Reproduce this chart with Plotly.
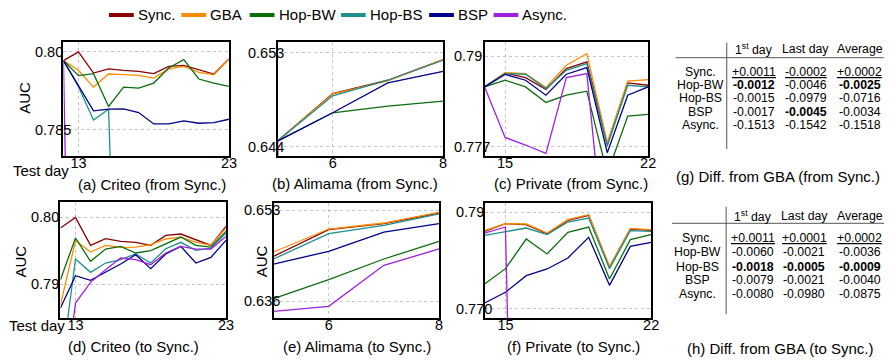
import plotly.graph_objects as go

W, H = 896, 364
FONT = "Liberation Sans, Arial, sans-serif"

# ---------------- data ----------------
series_names = ["Sync.", "GBA", "Hop-BW", "Hop-BS", "BSP", "Async."]
series_colors = ["#8b0000", "#ff8c00", "#0b6e0b", "#1b918c", "#00008b", "#a020e0"]

criteo_days = list(range(12, 24))
alimama_days = [5, 6, 7, 8]
private_days = list(range(14, 23))

# (a) Criteo (from Sync.)
a_sync = [0.79833, 0.80000, 0.79594, 0.79672, 0.79646, 0.79627, 0.79582, 0.79723, 0.79742, 0.79659, 0.79575, 0.79865]
a_gba = [0.79833, 0.79646, 0.79324, 0.79575, 0.79562, 0.79549, 0.79498, 0.79672, 0.79723, 0.79607, 0.79562, 0.79865]
a_hopbw = [0.79833, 0.79543, 0.79582, 0.78951, 0.79324, 0.79305, 0.79401, 0.79691, 0.79852, 0.79479, 0.79401, 0.79337]
a_hopbs = [0.79833, 0.79330, 0.78693, 0.78899, 0.70050, 0.70040, 0.70030, 0.70040, 0.70020, 0.70030, 0.70010, 0.70070]
a_bsp = [0.79833, 0.79350, 0.78867, 0.78899, 0.78906, 0.78835, 0.78616, 0.78616, 0.78674, 0.78629, 0.78642, 0.78706]
a_async = [0.79833, 0.64520, 0.64480, 0.64470, 0.64490, 0.64460, 0.64450, 0.64470, 0.64480, 0.64460, 0.64440, 0.64450]

# (b) Alimama (from Sync.)
b_sync = [0.64454, 0.64911, 0.65038, 0.65236]
b_gba = [0.64454, 0.64904, 0.65032, 0.65236]
b_hopbw = [0.64454, 0.64726, 0.64789, 0.64837]
b_hopbs = [0.64454, 0.64888, 0.65038, 0.65230]
b_bsp = [0.64454, 0.64726, 0.65013, 0.65124]
b_async = [0.64454, 0.49500, 0.49600, 0.49700]

# (c) Private (from Sync.)
c_sync = [0.78560, 0.78761, 0.78694, 0.78522, 0.78823, 0.78919, 0.77738, 0.78618, 0.78584]
c_gba = [0.78560, 0.78766, 0.78751, 0.78551, 0.78871, 0.79038, 0.77757, 0.78642, 0.78665]
c_hopbw = [0.78560, 0.78656, 0.78560, 0.78336, 0.78441, 0.78498, 0.77310, 0.78140, 0.78164]
c_hopbs = [0.78560, 0.78751, 0.78742, 0.78536, 0.78799, 0.78895, 0.77710, 0.78584, 0.78560]
c_bsp = [0.78560, 0.78740, 0.78656, 0.78441, 0.78742, 0.78837, 0.77614, 0.78441, 0.78560]
c_async = [0.78560, 0.77834, 0.77724, 0.77604, 0.78694, 0.78751, 0.75800, 0.75500, 0.75500]

# (d) Criteo (to Sync.)
d_sync = [0.79836, 0.79995, 0.79577, 0.79677, 0.79637, 0.79622, 0.79577, 0.79726, 0.79746, 0.79662, 0.79577, 0.79861]
d_gba = [0.78692, 0.79647, 0.79478, 0.79577, 0.79547, 0.79552, 0.79587, 0.79672, 0.79701, 0.79627, 0.79577, 0.79836]
d_hopbw = [0.79065, 0.79687, 0.79338, 0.79522, 0.79562, 0.79463, 0.79498, 0.79602, 0.79701, 0.79577, 0.79552, 0.79786]
d_hopbs = [0.77650, 0.79373, 0.79174, 0.79313, 0.79363, 0.79448, 0.79313, 0.79527, 0.79622, 0.79502, 0.79537, 0.79761]
d_bsp = [0.78642, 0.79124, 0.79055, 0.79179, 0.79299, 0.79438, 0.79229, 0.79448, 0.79562, 0.79313, 0.79398, 0.79652]
d_async = [0.77035, 0.78716, 0.79025, 0.79214, 0.79388, 0.79363, 0.79289, 0.79463, 0.79562, 0.79522, 0.79522, 0.79711]

# (e) Alimama (to Sync.)
e_sync = [0.64441, 0.64939, 0.65051, 0.65250]
e_gba = [0.64522, 0.64951, 0.65063, 0.65263]
e_hopbw = [0.63650, 0.64005, 0.64391, 0.64721]
e_hopbs = [0.64391, 0.64864, 0.65020, 0.65232]
e_bsp = [0.64297, 0.64534, 0.64895, 0.65051]
e_async = [0.63413, 0.63507, 0.64273, 0.64578]

# (f) Private (to Sync.)
f_sync = [0.78601, 0.78759, 0.78739, 0.78553, 0.78828, 0.78931, 0.77859, 0.78649, 0.78622]
f_gba = [0.78615, 0.78759, 0.78753, 0.78567, 0.78842, 0.78945, 0.77880, 0.78656, 0.78636]
f_hopbw = [0.77515, 0.77832, 0.78443, 0.78134, 0.78581, 0.78691, 0.77619, 0.78430, 0.78533]
f_hopbs = [0.78519, 0.78588, 0.78670, 0.78533, 0.78794, 0.78876, 0.77832, 0.78615, 0.78601]
f_bsp = [0.77124, 0.77344, 0.77687, 0.77825, 0.78052, 0.78478, 0.77488, 0.78292, 0.78375]
f_async = [0.78567, 0.78691, 0.60000, 0.60000, 0.60000, 0.60000, 0.60000, 0.60000, 0.60000]

# axis ticks
a_xticks = [13, 23]; a_yticks = [0.80, 0.785]; a_yticktext = ["0.80", "0.785"]
b_xticks = [6, 8]; b_yticks = [0.653, 0.644]; b_yticktext = ["0.653", "0.644"]
c_xticks = [15, 22]; c_yticks = [0.79, 0.777]; c_yticktext = ["0.79", "0.777"]
d_xticks = [13, 23]; d_yticks = [0.80, 0.79]; d_yticktext = ["0.80", "0.79"]
e_xticks = [6, 8]; e_yticks = [0.653, 0.636]; e_yticktext = ["0.653", "0.636"]
f_xticks = [15, 22]; f_yticks = [0.79, 0.770]; f_yticktext = ["0.79", "0.770"]

captions = ["(a) Criteo (from Sync.)", "(b) Alimama (from Sync.)", "(c) Private (from Sync.)",
            "(d) Criteo (to Sync.)", "(e) Alimama (to Sync.)", "(f) Private (to Sync.)"]

# tables
tbl_rows = ["Sync.", "Hop-BW", "Hop-BS", "BSP", "Async."]
tbl_cols = ["1<sup>st</sup> day", "Last day", "Average"]
g_first = [0.0011, -0.0012, -0.0015, -0.0017, -0.1513]
g_last = [-0.0002, -0.0046, -0.0979, -0.0045, -0.1542]
g_avg = [0.0002, -0.0025, -0.0716, -0.0034, -0.1518]
h_first = [0.0011, -0.0060, -0.0018, -0.0079, -0.0080]
h_last = [0.0001, -0.0021, -0.0005, -0.0021, -0.0980]
h_avg = [0.0002, -0.0036, -0.0009, -0.0040, -0.0875]
g_caption = "(g) Diff. from GBA (from Sync.)"
h_caption = "(h) Diff. from GBA (to Sync.)"

# ---------------- layout helpers (pixel -> paper) ----------------
def px(x):
    return x / W

def py(y):
    return 1 - y / H

panels = [
    dict(days=criteo_days, data=[a_sync, a_gba, a_hopbw, a_hopbs, a_bsp, a_async], box=(64, 231, 42, 156),
         xr=[12, 23], yr=[0.7800, 0.8019], xt=a_xticks, yt=a_yticks, ytt=a_yticktext, ylab_x=35,
         cap=(153.5, 184)),
    dict(days=alimama_days, data=[b_sync, b_gba, b_hopbw, b_hopbs, b_bsp, b_async], box=(280, 447, 42, 156),
         xr=[5, 8], yr=[0.64311, 0.65405], xt=b_xticks, yt=b_yticks, ytt=b_yticktext, ylab_x=250.7,
         cap=(357.7, 183.3)),
    dict(days=private_days, data=[c_sync, c_gba, c_hopbw, c_hopbs, c_bsp, c_async], box=(489, 654, 42, 156),
         xr=[14, 22], yr=[0.77566, 0.79206], xt=c_xticks, yt=c_yticks, ytt=c_yticktext, ylab_x=458.3,
         cap=(575.8, 183.3)),
    dict(days=criteo_days, data=[d_sync, d_gba, d_hopbw, d_hopbs, d_bsp, d_async], box=(61, 228, 202, 318),
         xr=[12, 23], yr=[0.78493, 0.80224], xt=d_xticks, yt=d_yticks, ytt=d_yticktext, ylab_x=31,
         cap=(135, 346.7)),
    dict(days=alimama_days, data=[e_sync, e_gba, e_hopbw, e_hopbs, e_bsp, e_async], box=(276, 443, 203, 318),
         xr=[5, 8], yr=[0.63289, 0.65437], xt=e_xticks, yt=e_yticks, ytt=e_yticktext, ylab_x=246,
         cap=(360, 346.7)),
    dict(days=private_days, data=[f_sync, f_gba, f_hopbw, f_hopbs, f_bsp, f_async], box=(489, 657, 203, 318),
         xr=[14, 22], yr=[0.76814, 0.79186], xt=f_xticks, yt=f_yticks, ytt=f_yticktext, ylab_x=460,
         cap=(579, 346.7)),
]

fig = go.Figure()
annotations = []
shapes = []
layout_axes = {}

for i, p in enumerate(panels):
    k = "" if i == 0 else str(i + 1)
    xa, ya = "x" + k, "y" + k
    x0, x1, y0, y1 = p["box"]
    for name, color, vals in zip(series_names, series_colors, p["data"]):
        fig.add_trace(go.Scatter(x=p["days"], y=vals, mode="lines", name=name,
                                 line=dict(color=color, width=1.3), showlegend=False,
                                 xaxis=xa, yaxis=ya, cliponaxis=True, hoverinfo="skip"))
    common = dict(showline=True, mirror=True, linecolor="black", linewidth=1.8,
                  showgrid=True, gridcolor="#c4c4c4", griddash="dot", gridwidth=1,
                  zeroline=False, ticks="", layer="above traces")
    layout_axes["xaxis" + k] = dict(common, domain=[px(x0), px(x1)], range=p["xr"], tickvals=p["xt"],
                                    anchor=ya, ticklabelstandoff=-7,
                                    tickfont=dict(size=14.5, color="black", family=FONT))
    layout_axes["yaxis" + k] = dict(common, domain=[py(y1), py(y0)], range=p["yr"], tickvals=p["yt"],
                                    anchor=xa, showticklabels=False)
    for v, t in zip(p["yt"], p["ytt"]):
        annotations.append(dict(x=px(p["ylab_x"] - 2), y=v, xref="paper", yref=ya, text=t, showarrow=False,
                                xanchor="left", yanchor="middle", font=dict(size=14.5, color="black", family=FONT)))
    annotations.append(dict(x=px(p["cap"][0]), y=py(p["cap"][1]), xref="paper", yref="paper", text=captions[i],
                            showarrow=False, xanchor="center", yanchor="middle",
                            font=dict(size=15, color="black", family=FONT)))

# legend row (swatch + label per series)
legend_swatch_x = [110, 183, 252, 344, 433, 498]
for name, color, sx in zip(series_names, series_colors, legend_swatch_x):
    shapes.append(dict(type="line", xref="paper", yref="paper", x0=px(sx), x1=px(sx + 25),
                       y0=py(15), y1=py(15), line=dict(color=color, width=4)))
    annotations.append(dict(x=px(sx + 27), y=py(15), xref="paper", yref="paper", text=name, showarrow=False,
                            xanchor="left", yanchor="middle", font=dict(size=15, color="black", family=FONT)))

# axis titles
for (tx, ty, t, ang) in [(25, 98, "AUC", -90), (21, 261.7, "AUC", -90), (264, 261.7, "AUC", -90),
                         (41.5, 170, "Test day", 0), (37, 325.7, "Test day", 0)]:
    annotations.append(dict(x=px(tx), y=py(ty), xref="paper", yref="paper", text=t, textangle=ang,
                            showarrow=False, xanchor="center", yanchor="middle",
                            font=dict(size=15, color="black", family=FONT)))

# tables
def add_table(first, last, avg, caption, hdr_y, row_ys, vline, hline, label_x, col_xs, cap_xy):
    cols = [first, last, avg]
    tf = dict(size=12.3, color="black", family=FONT)
    for cx, ct in zip(col_xs, tbl_cols):
        annotations.append(dict(x=px(cx), y=py(hdr_y), xref="paper", yref="paper", text=ct, showarrow=False,
                                xanchor="center", yanchor="middle", font=tf))
    for r, (name, ry) in enumerate(zip(tbl_rows, row_ys)):
        annotations.append(dict(x=px(label_x), y=py(ry), xref="paper", yref="paper", text=name, showarrow=False,
                                xanchor="center", yanchor="middle", font=tf))
        for cx, col in zip(col_xs, cols):
            best = max(col[1:])
            s = f"{col[r]:+.4f}"
            if r == 0:
                s = f'<span style="text-decoration:underline">{s}</span>'
            elif col[r] == best:
                s = f"<b>{s}</b>"
            annotations.append(dict(x=px(cx), y=py(ry), xref="paper", yref="paper", text=s, showarrow=False,
                                    xanchor="center", yanchor="middle", font=tf))
    shapes.append(dict(type="line", xref="paper", yref="paper", x0=px(vline[0]), x1=px(vline[0]),
                       y0=py(vline[1]), y1=py(vline[2]), line=dict(color="#555555", width=1)))
    shapes.append(dict(type="line", xref="paper", yref="paper", x0=px(hline[1]), x1=px(hline[2]),
                       y0=py(hline[0]), y1=py(hline[0]), line=dict(color="#555555", width=1)))
    annotations.append(dict(x=px(cap_xy[0]), y=py(cap_xy[1]), xref="paper", yref="paper", text=caption,
                            showarrow=False, xanchor="center", yanchor="middle",
                            font=dict(size=15, color="black", family=FONT)))

add_table(g_first, g_last, g_avg, g_caption, 49, [72.3, 85.3, 98.3, 111.5, 124.5], (733.3, 42.7, 149),
          (57.7, 681.7, 891.7), 706.5, [760.5, 813, 867.5], (785, 176.7))
add_table(h_first, h_last, h_avg, h_caption, 216, [237.7, 252.2, 266.5, 280.3, 294.3], (732.7, 206.7, 314),
          (223.3, 678, 892), 704, [759.7, 811.7, 867.3], (786.7, 348.3))

fig.update_layout(
    width=W, height=H, margin=dict(l=0, r=0, t=0, b=0),
    paper_bgcolor="white", plot_bgcolor="white",
    font=dict(family=FONT, color="black"),
    showlegend=False,
    annotations=annotations, shapes=shapes,
    **layout_axes,
)

fig.write_html("out.html", config={"displayModeBar": False},
               post_script="document.body.style.margin='0';")
